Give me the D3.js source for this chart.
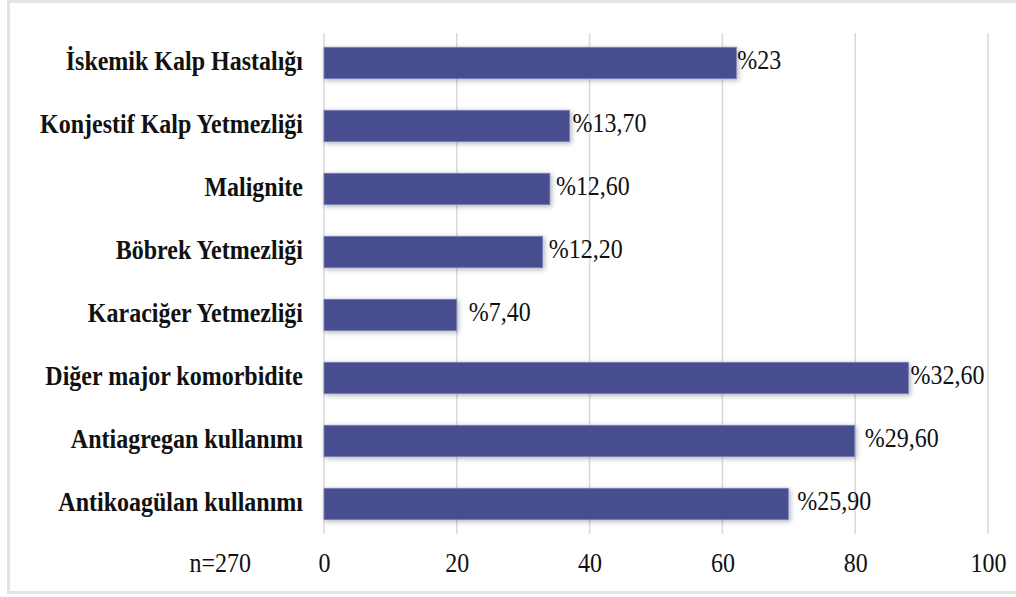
<!DOCTYPE html>
<html>
<head>
<meta charset="utf-8">
<script src="https://cdn.jsdelivr.net/npm/d3@7/dist/d3.min.js"></script>
<style>
  html, body { margin: 0; padding: 0; background: #fff; }
  svg { display: block; }
</style>
</head>
<body>
<script>
// Comorbidities and medication use, n = 270 patients
const categories = [
  "İskemik Kalp Hastalığı",
  "Konjestif Kalp Yetmezliği",
  "Malignite",
  "Böbrek Yetmezliği",
  "Karaciğer Yetmezliği",
  "Diğer major komorbidite",
  "Antiagregan kullanımı",
  "Antikoagülan kullanımı"
];
const percentLabels = ["%23", "%13,70", "%12,60", "%12,20", "%7,40", "%32,60", "%29,60", "%25,90"];
const percents = [23, 13.7, 12.6, 12.2, 7.4, 32.6, 29.6, 25.9];
const sampleSize = 270;
const xTicks = [0, 20, 40, 60, 80, 100];

// bar length = number of patients
const counts = percents.map(p => p * sampleSize / 100);

const W = 1016, H = 597;
const FONT = "'Liberation Serif', 'Times New Roman', serif";
const FS = 24, STRETCH = 1.1;
// hand-placed data labels: gap between bar end and label, px
const labelGap = [1, 3, 6, 6, 12, 2, 10, 9];

const svg = d3.select("body").append("svg").attr("width", W).attr("height", H);

const defs = svg.append("defs");
const f = defs.append("filter").attr("id", "barShadow")
  .attr("x", "-10%").attr("y", "-50%").attr("width", "120%").attr("height", "200%");
f.append("feDropShadow").attr("dx", 1.5).attr("dy", 1.5).attr("stdDeviation", 2.5)
  .attr("flood-color", "#000").attr("flood-opacity", 0.3);

// frame
svg.append("rect").attr("x", 8.5).attr("y", 1.5).attr("width", W + 10).attr("height", 591)
  .attr("fill", "none").attr("stroke", "#e3e3e3").attr("stroke-width", 3);

const x = d3.scaleLinear().domain([0, 100]).range([324, 988]);
const y = d3.scaleBand().domain(categories).range([31.5, 535.5]).paddingInner(0.5).paddingOuter(0.25);
const yc = d => y(d) + y.bandwidth() / 2;

// text with slightly tall glyphs
function place(sel, fx, fy) {
  sel.attr("transform", (d, i) => `translate(${fx(d, i)},${fy(d, i)}) scale(1,${STRETCH})`)
    .attr("font-family", FONT).attr("font-size", FS).attr("fill", "#111");
  return sel;
}

// vertical gridlines
svg.append("g").selectAll("line").data(xTicks).join("line")
  .attr("x1", d => x(d)).attr("x2", d => x(d))
  .attr("y1", 33).attr("y2", 534)
  .attr("stroke", "#d9d9d9").attr("stroke-width", 1.5);

// bars
svg.append("g").selectAll("rect").data(categories).join("rect")
  .attr("x", x(0))
  .attr("y", d => y(d))
  .attr("width", (d, i) => x(counts[i]) - x(0))
  .attr("height", y.bandwidth())
  .attr("fill", "#474e8f")
  .attr("stroke", "#7d84bd").attr("stroke-width", 0.8)
  .attr("filter", "url(#barShadow)");

// value labels
place(svg.append("g").selectAll("text").data(categories).join("text"),
  (d, i) => x(counts[i]) + labelGap[i], d => yc(d) + 6)
  .text((d, i) => percentLabels[i]);

// category labels
place(svg.append("g").selectAll("text").data(categories).join("text"),
  () => 303, d => yc(d) + 7)
  .attr("text-anchor", "end")
  .attr("font-weight", "bold")
  .text(d => d);

// x axis tick labels
const xAxis = d3.axisBottom(x).tickValues(xTicks).tickSize(0).tickPadding(0);
const gx = svg.append("g").attr("transform", "translate(0,572)").call(xAxis);
gx.select(".domain").remove();
gx.selectAll(".tick text")
  .attr("font-family", FONT).attr("font-size", FS).attr("fill", "#111")
  .attr("y", 0).attr("dy", 0)
  .attr("transform", `scale(1,${STRETCH})`);

place(svg.append("g").selectAll("text").data(["n=" + sampleSize]).join("text"),
  () => 251, () => 572)
  .attr("text-anchor", "end")
  .text(d => d);
</script>
</body>
</html>
